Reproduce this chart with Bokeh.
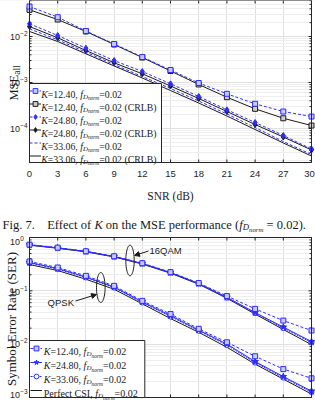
import math
from bokeh.plotting import figure
from bokeh.models import (Range1d, FixedTicker, Label, BoxAnnotation, Legend, LegendItem,
                          Arrow, NormalHead, PolyAnnotation)
from bokeh.layouts import column
from bokeh.embed import file_html
from bokeh.resources import INLINE

# ---------------- data ----------------
snr_db = [0, 3, 6, 9, 12, 15, 18, 21, 24, 27, 30]
x_ticks = [0, 3, 6, 9, 12, 15, 18, 21, 24, 27, 30]

# Top chart: MSE_all vs SNR
mse_k1240 = [0.0449, 0.0263, 0.0132, 0.00687, 0.00358, 0.00187, 0.000975, 0.000568, 0.000344, 0.000234, 0.000182]
crlb_k1240 = [0.0380, 0.0234, 0.01285, 0.0067, 0.00349, 0.00178, 0.000906, 0.000479, 0.000268, 0.000167, 0.000116]
mse_k2480 = [0.01888, 0.01051, 0.00557, 0.0030, 0.00173, 0.000937, 0.000497, 0.000255, 0.000135, 7.05e-5, 3.58e-5]
crlb_k2480 = [0.01648, 0.00937, 0.00496, 0.00268, 0.001545, 0.000839, 0.000449, 0.000234, 0.000122, 6.53e-5, 3.41e-5]
mse_k3306 = [0.01469, 0.00848, 0.00456, 0.00246, 0.00135, 0.000741, 0.000396, 0.000207, 0.000105, 5.21e-5, 2.72e-5]
crlb_k3306 = [0.01285, 0.00779, 0.00421, 0.00229, 0.001253, 0.00067, 0.000358, 0.000187, 9.5e-5, 4.84e-5, 2.52e-5]
mse_ticks = [1e-4, 1e-3, 1e-2]
mse_tick_labels = ["-4", "-3", "-2"]

# Bottom chart: SER vs SNR
qam_k1240 = [0.735, 0.645, 0.552, 0.445, 0.330, 0.224, 0.140, 0.0798, 0.0459, 0.0277, 0.0180]
qam_k2480 = [0.728, 0.638, 0.547, 0.440, 0.325, 0.220, 0.137, 0.0755, 0.0392, 0.0209, 0.0112]
qam_k3306 = [0.725, 0.635, 0.545, 0.438, 0.323, 0.218, 0.136, 0.0745, 0.0383, 0.0200, 0.0107]
qam_perfect = [0.718, 0.628, 0.538, 0.432, 0.318, 0.214, 0.133, 0.0725, 0.0367, 0.0188, 0.0098]
qpsk_k1240 = [0.355, 0.274, 0.191, 0.124, 0.0649, 0.0367, 0.0194, 0.01086, 0.00593, 0.00341, 0.00229]
qpsk_k2480 = [0.340, 0.262, 0.1815, 0.118, 0.0622, 0.0344, 0.0184, 0.01005, 0.00472, 0.00247, 0.00132]
qpsk_k3306 = [0.332, 0.256, 0.178, 0.115, 0.0603, 0.0330, 0.0178, 0.0096, 0.00452, 0.00236, 0.00126]
qpsk_perfect = [0.311, 0.240, 0.165, 0.107, 0.057, 0.0302, 0.0167, 0.00875, 0.00423, 0.00221, 0.00116]
ser_ticks = [1e-3, 1e-2, 1e-1, 1.0]
ser_tick_labels = ["-3", "-2", "-1", "0"]

k_labels = ["12.40", "24.80", "33.06"]

# ---------------- style ----------------
BLUE = "#2d2dff"
BLACK = "#1a1a1a"
AX = "#262626"
GRID = "#e0e0e0"
MGRID = "#eeeeee"
SERIF = "Liberation Serif"
SANS = "Liberation Sans"
W = 315
PL, PR = 29, 311          # plot area left / right (px)
PXU = (PR - PL) / 30.0    # px per dB
SPLIT = 232               # page y where the bottom canvas starts

TR = {' ': 250, '(': 333, ')': 333, ',': 250, '.': 250, '=': 564, 'A': 722, 'B': 667, 'C': 667,
      'D': 722, 'E': 611, 'F': 556, 'I': 333, 'K': 722, 'L': 611, 'M': 889, 'N': 722, 'P': 556,
      'R': 667, 'S': 556, 'a': 444, 'b': 500, 'c': 444, 'd': 500, 'e': 444, 'f': 333, 'g': 500,
      'h': 500, 'i': 278, 'l': 278, 'm': 778, 'n': 500, 'o': 500, 'p': 500, 'r': 333, 's': 389,
      't': 278, 'u': 500, 'y': 500}
for d in "0123456789":
    TR[d] = 500
TI = {'K': 667, 'f': 278, 'D': 722, 'n': 500, 'o': 500, 'r': 389, 'm': 722}


def text_w(s, size, italic):
    tbl = TI if italic else TR
    return sum(tbl.get(c, TR.get(c, 500)) for c in s) * size / 1000.0


def lab(fig, B, px, py, text, size, font=SERIF, italic=False, align="left",
        baseline="alphabetic", angle=0.0, color=BLACK):
    # B = page y of the canvas bottom edge; screen y is measured upward from it
    fig.add_layout(Label(x=px, y=B - py, x_units="screen", y_units="screen", text=text,
                         text_font=font, text_font_size=f"{size:.2f}px",
                         text_font_style="italic" if italic else "normal", angle=angle,
                         text_color=color, text_baseline=baseline, text_align=align,
                         level="overlay"))


def rich(fig, B, px, py, parts):
    x = px
    for text, size, italic, dy in parts:
        lead = len(text) - len(text.lstrip(" "))
        core = text.strip(" ")
        if core:
            lab(fig, B, x + lead * 0.25 * size, py + dy, core, size, italic=italic)
        x += text_w(text, size, italic)
    return x


def fnorm_parts(s):
    return [("f", s, True, 0), ("D", s * 0.7, True, s * 0.2), ("norm", s * 0.55, True, s * 0.36)]


def leg_text(fig, B, px, py, head, crlb=False, s=9.8):
    parts = list(head) + [(", ", s, False, 0)] + fnorm_parts(s) + [("=0.02", s, False, 0)]
    if crlb:
        parts += [(" (CRLB)", s, False, 0)]
    rich(fig, B, px, py, parts)


def mask(fig, left, right, bottom, top):
    fig.add_layout(BoxAnnotation(left=left, right=right, bottom=bottom, top=top,
                                 left_units="screen", right_units="screen",
                                 bottom_units="screen", top_units="screen",
                                 fill_color="white", fill_alpha=1, line_alpha=0,
                                 level="underlay"))


def make_fig(H, ylo, yhi, yticks, ylabels, plot_top_px, plot_bot_px, decade_px, label_dy=None):
    """Canvas-wide frame; the plot box spans x 0..30 and y ylo..yhi."""
    ctop = 10 ** (math.log10(yhi) + plot_top_px / decade_px)
    cbot = 10 ** (math.log10(ylo) - (H - plot_bot_px) / decade_px)
    fig = figure(width=W, height=H, x_range=Range1d(-PL / PXU, 30 + (W - PR) / PXU),
                 y_range=Range1d(cbot, ctop), y_axis_type="log",
                 x_axis_location=None, y_axis_location=None, output_backend="svg",
                 toolbar_location=None, min_border=0, min_border_left=0, min_border_right=0,
                 min_border_top=0, min_border_bottom=0, outline_line_alpha=0)
    fig.background_fill_color = "white"
    fig.border_fill_color = "white"
    e_lo = int(round(math.log10(ylo))) - 1
    e_hi = int(round(math.log10(yhi))) + 1
    minors = [m * 10.0 ** e for e in range(e_lo, e_hi) for m in range(2, 10)
              if ylo < m * 10.0 ** e < yhi]
    fig.xgrid.axis = None
    fig.xgrid.ticker = FixedTicker(ticks=x_ticks)
    fig.xgrid.grid_line_color = GRID
    fig.ygrid.axis = None
    fig.ygrid.ticker = FixedTicker(ticks=yticks, minor_ticks=minors)
    fig.ygrid.grid_line_color = GRID
    fig.ygrid.minor_grid_line_color = MGRID
    mask(fig, 0, PL, 0, H)
    mask(fig, PR, W, 0, H)
    mask(fig, 0, W, 0, H - plot_bot_px)
    if plot_top_px > 0:
        mask(fig, 0, W, H - plot_top_px, H)
    fig.add_layout(BoxAnnotation(left=0, right=30, bottom=ylo, top=yhi, fill_alpha=0,
                                 line_color=AX, line_alpha=1, line_width=1, level="overlay"))
    dx_maj, dx_min = 3 / PXU, 2 / PXU
    fy = 10 ** (3 / decade_px)
    yt = [t for t in yticks if ylo <= t <= yhi]
    fig.segment(x0=[0] * len(yt), x1=[dx_maj] * len(yt), y0=yt, y1=yt, line_color=AX)
    fig.segment(x0=[30 - dx_maj] * len(yt), x1=[30] * len(yt), y0=yt, y1=yt, line_color=AX)
    fig.segment(x0=[0] * len(minors), x1=[dx_min] * len(minors), y0=minors, y1=minors, line_color=AX)
    fig.segment(x0=[30 - dx_min] * len(minors), x1=[30] * len(minors), y0=minors, y1=minors,
                line_color=AX)
    fig.segment(x0=x_ticks, x1=x_ticks, y0=[ylo] * len(x_ticks), y1=[ylo * fy] * len(x_ticks),
                line_color=AX)
    fig.segment(x0=x_ticks, x1=x_ticks, y0=[yhi] * len(x_ticks), y1=[yhi / fy] * len(x_ticks),
                line_color=AX)
    if label_dy is None:
        label_dy = [0] * len(yticks)
    for t, e, dy in zip(yticks, ylabels, label_dy):
        fig.add_layout(Label(x=19.5, y=t, y_offset=dy, x_units="screen", y_units="data",
                             text="10", text_font=SANS, text_font_size="9px", text_color=AX,
                             text_align="right", text_baseline="middle", level="overlay"))
        fig.add_layout(Label(x=19.8, y=t, y_offset=dy + 3.5, x_units="screen", y_units="data",
                             text=e.replace("-", "\u2212"), text_font=SANS,
                             text_font_size="6.5px", text_color=AX, text_align="left",
                             text_baseline="middle", level="overlay"))
    return fig


# ---------------- top figure ----------------
H1 = SPLIT
B1 = H1
y1_hi = 10 ** (-2 + 36 / 46)
y1_lo = 10 ** (-2 - 126 / 46)
fig1 = make_fig(H1, y1_lo, y1_hi, mse_ticks, mse_tick_labels, 0, 162, 46)

for t in x_ticks:
    fig1.add_layout(Label(x=t, y=B1 - 170.5, x_offset=(-2 if t == 30 else 0), x_units="data",
                          y_units="screen", text=str(t), text_font=SANS,
                          text_font_size="9.5px", text_color=AX, text_align="center",
                          text_baseline="top", level="overlay"))

r = {}
r["c12l"] = fig1.line(snr_db, crlb_k1240, line_color=BLACK, line_width=1)
r["c12m"] = fig1.scatter(snr_db, crlb_k1240, marker="square", size=5, line_color=BLACK, fill_color="#cfcfcf")
r["m12l"] = fig1.line(snr_db, mse_k1240, line_color=BLUE, line_width=1, line_dash="3 2")
r["m12m"] = fig1.scatter(snr_db, mse_k1240, marker="square", size=5, line_color=BLUE, fill_color="#c9c9ff")
r["c24l"] = fig1.line(snr_db, crlb_k2480, line_color=BLACK, line_width=1)
r["c24m"] = fig1.scatter(snr_db, crlb_k2480, marker="diamond", size=6, line_color=BLACK, fill_color=BLACK)
r["m24l"] = fig1.line(snr_db, mse_k2480, line_color=BLUE, line_width=1, line_dash="3 2")
r["m24m"] = fig1.scatter(snr_db, mse_k2480, marker="diamond", size=6, line_color=BLUE, fill_color=BLUE)
r["c33l"] = fig1.line(snr_db, crlb_k3306, line_color=BLACK, line_width=1)
r["m33l"] = fig1.line(snr_db, mse_k3306, line_color=BLUE, line_width=1, line_dash="3 2")

fig1.add_layout(BoxAnnotation(left=29, right=161, bottom=B1 - 162, top=B1 - 83,
                              left_units="screen", right_units="screen", bottom_units="screen",
                              top_units="screen", fill_color="white", fill_alpha=1,
                              line_color=AX, line_alpha=1, line_width=1, level="annotation"))
leg1 = Legend(items=[
    LegendItem(label=" ", renderers=[r["m12l"], r["m12m"]]),
    LegendItem(label=" ", renderers=[r["c12l"], r["c12m"]]),
    LegendItem(label=" ", renderers=[r["m24l"], r["m24m"]]),
    LegendItem(label=" ", renderers=[r["c24l"], r["c24m"]]),
    LegendItem(label=" ", renderers=[r["m33l"]]),
    LegendItem(label=" ", renderers=[r["c33l"]]),
], location=(29, B1 - 162), glyph_width=12, glyph_height=13, label_height=13, label_width=1,
    label_standoff=0, padding=0, spacing=0, margin=0, border_line_alpha=0,
    background_fill_alpha=0, label_text_font_size="9px")
fig1.add_layout(leg1, "center")

s = 9.8
for i in range(6):
    head = [("K", s, True, 0), ("=", s, False, 0), (k_labels[i // 2], s, False, 0)]
    leg_text(fig1, B1, 40.7, 90.5 + 13 * i + 3.4, head, crlb=(i % 2 == 1), s=s)

# axis titles and caption
lab(fig1, B1, 13.5, 100, "MSE", 12.5, angle=math.pi / 2)
lab(fig1, B1, 16, 100 - text_w("MSE", 12.5, False), "all", 9.5, angle=math.pi / 2)
lab(fig1, B1, 170, 195, "SNR (dB)", 11.5, align="center")
cs = 12.5
rich(fig1, B1, 2, 224, [("Fig. 7.", cs, False, 0)])
rich(fig1, B1, 46.7, 224, [("Effect of ", cs, False, 0), ("K", cs, True, 0),
                          (" on the MSE performance (", cs, False, 0)] + fnorm_parts(cs) +
     [(" = 0.02).", cs, False, 0)])

# ---------------- bottom figure ----------------
H2 = 400 - SPLIT
B2 = 400
fig2 = make_fig(H2, 1e-3, 1.0, ser_ticks, ser_tick_labels, 237 - SPLIT, 397 - SPLIT, 160 / 3.0,
                label_dy=[3, 0, -1.5, -4])

b = {}
b["pl"] = fig2.line(snr_db, qam_perfect, line_color=BLACK, line_width=1)
fig2.line(snr_db, qpsk_perfect, line_color=BLACK, line_width=1)
b["k33l"] = fig2.line(snr_db, qam_k3306, line_color=BLUE, line_width=1, line_dash="2 1")
fig2.line(snr_db, qpsk_k3306, line_color=BLUE, line_width=1, line_dash="2 1")
b["k33m"] = fig2.scatter(snr_db, qam_k3306, marker="circle", size=5, line_color=BLUE, fill_color="white")
fig2.scatter(snr_db, qpsk_k3306, marker="circle", size=5, line_color=BLUE, fill_color="white")
b["k24l"] = fig2.line(snr_db, qam_k2480, line_color=BLUE, line_width=1)
fig2.line(snr_db, qpsk_k2480, line_color=BLUE, line_width=1)
b["k24m"] = fig2.scatter(snr_db, qam_k2480, marker="star", size=7, line_color=BLUE, fill_color=BLUE)
fig2.scatter(snr_db, qpsk_k2480, marker="star", size=7, line_color=BLUE, fill_color=BLUE)
b["k12l"] = fig2.line(snr_db, qam_k1240, line_color=BLUE, line_width=1, line_dash="3 2")
fig2.line(snr_db, qpsk_k1240, line_color=BLUE, line_width=1, line_dash="3 2")
b["k12m"] = fig2.scatter(snr_db, qam_k1240, marker="square", size=5, line_color=BLUE, fill_color="#c9c9ff")
fig2.scatter(snr_db, qpsk_k1240, marker="square", size=5, line_color=BLUE, fill_color="#c9c9ff")

fig2.add_layout(BoxAnnotation(left=29, right=144.3, bottom=B2 - 397, top=B2 - 340,
                              left_units="screen", right_units="screen", bottom_units="screen",
                              top_units="screen", fill_color="white", fill_alpha=1,
                              line_color=AX, line_alpha=1, line_width=1, level="annotation"))
leg2 = Legend(items=[
    LegendItem(label=" ", renderers=[b["k12l"], b["k12m"]]),
    LegendItem(label=" ", renderers=[b["k24l"], b["k24m"]]),
    LegendItem(label=" ", renderers=[b["k33l"], b["k33m"]]),
    LegendItem(label=" ", renderers=[b["pl"]]),
], location=(30, B2 - 397), glyph_width=12, glyph_height=14, label_height=14, label_width=1,
    label_standoff=0, padding=0, spacing=0, margin=0, border_line_alpha=0,
    background_fill_alpha=0, label_text_font_size="9px")
fig2.add_layout(leg2, "center")

s2 = 10
for i in range(4):
    if i < 3:
        head = [("K", s2, True, 0), ("=", s2, False, 0), (k_labels[i], s2, False, 0)]
    else:
        head = [("Perfect CSI", s2, False, 0)]
    leg_text(fig2, B2, 43.3, 348 + 14 * i + 3.4, head, s=s2)


def ellipse(fig, cx, cy, rx, ry):
    n = 48
    xs = [cx + rx * math.cos(2 * math.pi * k / n) for k in range(n)]
    ys = [B2 - (cy + ry * math.sin(2 * math.pi * k / n)) for k in range(n)]
    fig.add_layout(PolyAnnotation(xs=xs, ys=ys, xs_units="screen", ys_units="screen",
                                  fill_alpha=0, line_color=BLACK, line_alpha=1, line_width=1,
                                  level="overlay"))


ellipse(fig2, 129.5, 260, 4.2, 15.3)
ellipse(fig2, 100.3, 287, 4.3, 15)
for (x0, y0, x1, y1) in [(148, 250.5, 134, 255), (75, 300.5, 96, 294)]:
    fig2.add_layout(Arrow(end=NormalHead(size=5, fill_color=BLACK, line_color=BLACK, line_width=1),
                          x_start=x0, y_start=B2 - y0, x_end=x1, y_end=B2 - y1,
                          start_units="screen", end_units="screen", line_color=BLACK,
                          line_width=1, level="overlay"))
lab(fig2, B2, 149, 249.5, "16QAM", 9.5, font=SANS, baseline="middle")
lab(fig2, B2, 73.5, 302, "QPSK", 9.5, font=SANS, align="right", baseline="middle")
lab(fig2, B2, 10.5, 318.5, "Symbol Error Rate (SER)", 13, align="center", angle=math.pi / 2)

p = column(fig1, fig2, spacing=0)
open("out.html", "w").write(file_html(p, INLINE))
